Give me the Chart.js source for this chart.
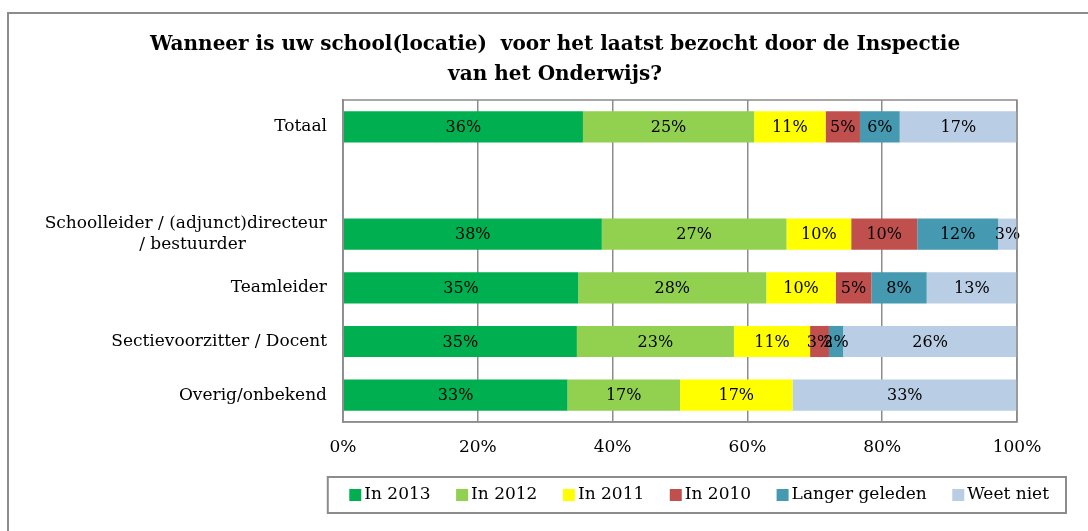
<!DOCTYPE html>
<html>
<head>
<meta charset="utf-8">
<script src="https://cdn.jsdelivr.net/npm/chart.js@4"></script>
<style>
  html, body { margin: 0; padding: 0; background: #fff; }
  #wrap { width: 1088px; height: 531px; }
</style>
</head>
<body>
<div id="wrap"><canvas id="chart" width="1088" height="531"></canvas></div>
<script>
const categories = [
  "Totaal",
  "",
  ["Schoolleider / (adjunct)directeur", "/ bestuurder\u00a0\u00a0\u00a0\u00a0\u00a0\u00a0\u00a0\u00a0\u00a0\u00a0\u00a0\u00a0\u00a0\u00a0\u00a0"],
  "Teamleider",
  "Sectievoorzitter / Docent",
  "Overig/onbekend",
];

const in2013 = [35.6, null, 38.4, 34.9, 34.7, 33.3];
const in2012 = [25.4, null, 27.4, 27.9, 23.3, 16.7];
const in2011 = [10.6, null, 9.6, 10.3, 11.3, 16.7];
const in2010 = [5.1, null, 9.8, 5.3, 2.8, 0];
const langer = [5.9, null, 12.0, 8.2, 2.1, 0];
const weetNiet = [17.4, null, 2.8, 13.4, 25.8, 33.3];

const xTicks = [0, 20, 40, 60, 80, 100];

const seriesNames = ["In 2013", "In 2012", "In 2011", "In 2010", "Langer geleden", "Weet niet"];
const seriesColors = ["#00b050", "#92d050", "#ffff00", "#c0504d", "#4599b0", "#b9cde5"];
const seriesValues = [in2013, in2012, in2011, in2010, langer, weetNiet];

const serif = "'DejaVu Serif', serif";
const gridGray = "#8c8c8c";

// percentage labels in the middle of each segment
const barLabels = {
  id: "barLabels",
  afterDatasetsDraw(chart) {
    const ctx = chart.ctx;
    ctx.save();
    ctx.font = "16px " + serif;
    ctx.fillStyle = "#000";
    ctx.textAlign = "center";
    ctx.textBaseline = "middle";
    chart.data.datasets.forEach((ds, i) => {
      chart.getDatasetMeta(i).data.forEach((bar, j) => {
        const v = ds.data[j];
        if (!v) return;
        ctx.fillText(Math.round(v) + "%", (bar.x + bar.base) / 2, bar.y + 1);
      });
    });
    ctx.restore();
  },
};

// frame lines, plot border and legend box
const frames = {
  id: "frames",
  beforeDraw(chart) {
    const ctx = chart.ctx;
    ctx.save();
    ctx.strokeStyle = gridGray;
    ctx.lineWidth = 2;
    ctx.beginPath();
    ctx.moveTo(8, 531);
    ctx.lineTo(8, 13);
    ctx.lineTo(1088, 13);
    ctx.stroke();
    ctx.restore();
  },
  afterDraw(chart) {
    const ctx = chart.ctx;
    const a = chart.chartArea;
    ctx.save();
    ctx.strokeStyle = gridGray;
    ctx.lineWidth = 1.5;
    ctx.strokeRect(a.left, a.top, a.right - a.left, a.bottom - a.top);
    const boxes = chart.legend.legendHitBoxes;
    if (boxes && boxes.length) {
      const first = boxes[0];
      const last = boxes[boxes.length - 1];
      const cy = first.top + first.height / 2;
      ctx.lineWidth = 2;
      ctx.strokeRect(first.left - 27, cy - 18, last.left + last.width + 17 - (first.left - 27), 36);
    }
    ctx.restore();
  },
};

new Chart(document.getElementById("chart").getContext("2d"), {
  type: "bar",
  data: {
    labels: categories,
    datasets: seriesNames.map((name, i) => ({
      label: name,
      data: seriesValues[i],
      backgroundColor: seriesColors[i],
      borderWidth: 0,
      barPercentage: 0.58,
      categoryPercentage: 1,
    })),
  },
  options: {
    indexAxis: "y",
    responsive: false,
    animation: false,
    layout: {
      padding: { left: 30, right: 8, top: 30, bottom: 17.5 },
    },
    scales: {
      x: {
        stacked: true,
        min: 0,
        max: 100,
        afterBuildTicks: (s) => { s.ticks = xTicks.map((v) => ({ value: v })); },
        afterFit: (s) => { s.height = 33.5; },
        grid: { color: gridGray, lineWidth: 1.5, drawTicks: false },
        border: { color: gridGray, width: 1.5 },
        ticks: {
          padding: 15,
          color: "#000",
          font: { family: serif, size: 17 },
          callback: (v) => v + "%",
        },
      },
      y: {
        stacked: true,
        afterFit: (s) => { s.width = 313; },
        grid: { display: false, drawTicks: false },
        border: { color: gridGray, width: 1.5 },
        ticks: {
          padding: 16,
          color: "#000",
          font: { family: serif, size: 17, lineHeight: 1.2 },
        },
      },
      // empty right-hand axis, only keeps room right of the plot
      yRight: {
        type: "linear",
        position: "right",
        afterFit: (s) => { s.width = 63; },
        grid: { display: false, drawTicks: false },
        border: { display: false },
        ticks: { display: false },
      },
    },
    plugins: {
      title: {
        display: true,
        text: ["Wanneer is uw school(locatie)  voor het laatst bezocht door de Inspectie", "van het Onderwijs?"],
        color: "#000",
        font: { family: serif, size: 20, weight: "bold", lineHeight: 1.5 },
        padding: { top: 0, bottom: 10 },
      },
      legend: {
        position: "bottom",
        align: "end",
        labels: {
          usePointStyle: true,
          pointStyle: "rect",
          boxWidth: 1,
          boxHeight: 12,
          padding: 31,
          color: "#000",
          font: { family: serif, size: 17 },
        },
      },
      tooltip: { enabled: false },
    },
  },
  plugins: [barLabels, frames],
});
</script>
</body>
</html>
